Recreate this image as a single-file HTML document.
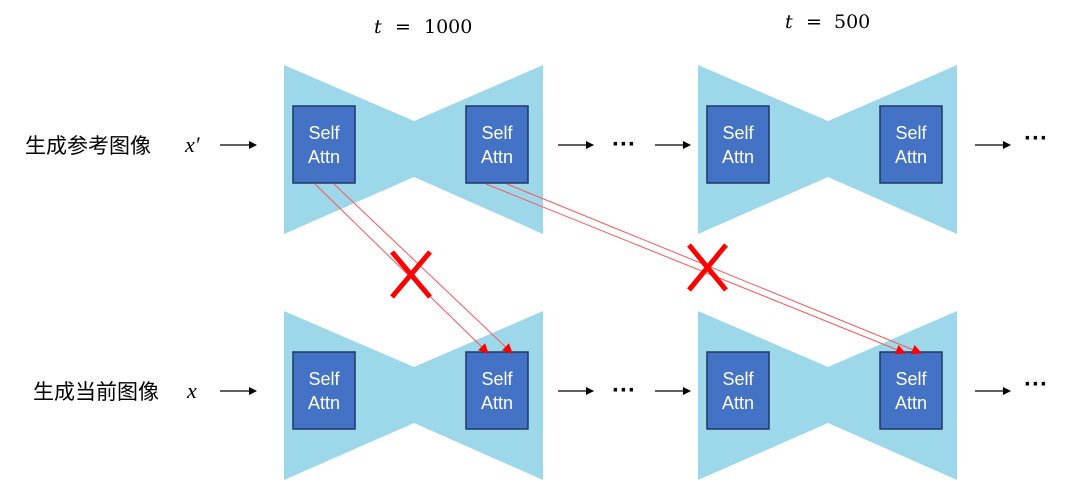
<!DOCTYPE html><html><head><meta charset="utf-8"><style>body{margin:0;background:#fff;width:1080px;height:498px;overflow:hidden}</style></head><body>
<svg width="1080" height="498" xmlns="http://www.w3.org/2000/svg" font-family="Liberation Sans, Noto Sans CJK SC, sans-serif">
<defs><marker id="a" markerWidth="8" markerHeight="8" refX="7" refY="4" orient="auto" markerUnits="userSpaceOnUse"><path d="M0,0L8,4L0,8z" fill="#000"/></marker>
<marker id="r" markerWidth="10" markerHeight="10" refX="9" refY="5" orient="auto" markerUnits="userSpaceOnUse"><path d="M0,0L10,5L0,10z" fill="#f00"/></marker>
<g id="u"><path d="M0,0L130,56L130,56L259,0L259,169L130,112L0,169z" fill="#9dd8ea"/>
<rect x="9" y="41" width="62" height="77" fill="#4472c4" stroke="#1f3864" stroke-width="1.5"/>
<rect x="182" y="41" width="62" height="77" fill="#4472c4" stroke="#1f3864" stroke-width="1.5"/>
<g fill="#fff" font-size="18" text-anchor="middle"><text x="40" y="74">Self</text><text x="40" y="98">Attn</text><text x="213" y="74">Self</text><text x="213" y="98">Attn</text></g></g></defs>
<use href="#u" x="284" y="65"/><use href="#u" x="698" y="65"/><use href="#u" x="284" y="311"/><use href="#u" x="698" y="311"/>
<g font-family="DejaVu Serif, serif" font-size="19"><text x="374" y="33" font-style="italic">t</text><text x="395" y="33">=</text><text x="424" y="33">1000</text>
<text x="785" y="28" font-style="italic">t</text><text x="806" y="28">=</text><text x="834" y="28">500</text></g>
<g font-family="Liberation Serif, serif" font-size="22"><text x="185" y="152" font-style="italic">x′</text><text x="187" y="398" font-style="italic">x</text></g>
<g font-size="21"><text x="25" y="153">生成参考图像</text><text x="33" y="399">生成当前图像</text></g>
<g stroke="#000" stroke-width="1.2" marker-end="url(#a)">
<line x1="220" y1="145" x2="256" y2="145"/><line x1="220" y1="391" x2="256" y2="391"/>
<line x1="558" y1="145" x2="593" y2="145"/><line x1="655" y1="145" x2="690" y2="145"/>
<line x1="975" y1="145" x2="1010" y2="145"/>
<line x1="558" y1="391" x2="593" y2="391"/><line x1="655" y1="391" x2="690" y2="391"/>
<line x1="975" y1="391" x2="1010" y2="391"/></g>
<g font-size="24" font-weight="bold"><text x="612" y="152">···</text><text x="1024" y="146">···</text><text x="612" y="398">···</text><text x="1024" y="392">···</text></g>
<g stroke="#f55" stroke-width="1" marker-end="url(#r)">
<line x1="315" y1="184" x2="488" y2="353"/><line x1="334" y1="184" x2="512" y2="353"/>
<line x1="486" y1="184" x2="905" y2="353"/><line x1="507" y1="184" x2="921" y2="353"/></g>
<g stroke="#f00" stroke-width="5"><line x1="392" y1="252" x2="430" y2="297"/><line x1="430" y1="252" x2="392" y2="297"/>
<line x1="689" y1="245" x2="726" y2="290"/><line x1="726" y1="245" x2="689" y2="290"/></g>
</svg></body></html>
